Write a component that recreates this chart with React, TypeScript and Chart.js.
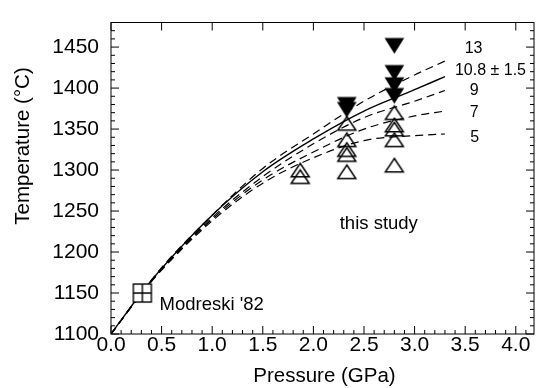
import React, { useEffect, useRef } from "react";
import { Chart, registerables } from "chart.js";
Chart.register(...registerables);

// ---- axes ----
const xTickValues = [0, 0.5, 1.0, 1.5, 2.0, 2.5, 3.0, 3.5, 4.0];
const yTickValues = [1100, 1150, 1200, 1250, 1300, 1350, 1400, 1450];
const xMin = 0;
const xMax = 4.18;
const yMin = 1100;
const yMax = 1480;
const xMinorStep = 0.1;
const yMinorStep = 10;
const xTitle = "Pressure (GPa)";
const yTitle = "Temperature (°C)";

// ---- model curves (pressure GPa -> temperature °C) ----
const curveP = [0, 0.3, 0.5, 1.0, 1.5, 2.0, 2.5, 3.0, 3.3];
const curve13 = [1100, 1150, 1181, 1245, 1302, 1344, 1384, 1416, 1433];
const curve108 = [1100, 1150, 1180, 1245, 1298, 1338, 1372, 1398, 1414];
const curve9 = [1100, 1149, 1179, 1242, 1292, 1332, 1364, 1384, 1397];
const curve7 = [1100, 1149, 1179, 1240, 1288, 1322, 1350, 1366, 1372];
const curve5 = [1100, 1149, 1178, 1238, 1284, 1315, 1336, 1342, 1344];

// ---- experiments (this study) ----
const openP = [1.87, 1.87, 2.33, 2.33, 2.33, 2.33, 2.33, 2.8, 2.8, 2.8, 2.8, 2.8];
const openT = [1300, 1292, 1357, 1337, 1325, 1319, 1298, 1370, 1355, 1350, 1337, 1306];
const filledP = [2.33, 2.33, 2.8, 2.8, 2.8, 2.8];
const filledT = [1380, 1374, 1452, 1419, 1404, 1391];

// ---- Modreski '82 ----
const modreskiP = [0.31];
const modreskiT = [1150];

// ---- annotations ----
const noteTexts = ["Modreski '82", "this study"];
const noteP = [0.48, 2.26];
const noteT = [1128.7, 1228.2];
const curveLabels = ["13", "10.8 ± 1.5", "9", "7", "5"];
const curveLabelP = [3.583, 3.75, 3.59, 3.59, 3.593];
const curveLabelT = [1448, 1421.5, 1396.7, 1370, 1339];

const FONT = "'Liberation Sans', Arial, Helvetica, sans-serif";

function pts(xs: number[], ys: number[]) {
  return xs.map((x, i) => ({ x, y: ys[i] }));
}

function makeTriangle(w: number, h: number, up: boolean, filled: boolean) {
  const c = document.createElement("canvas");
  const pad = 2;
  c.width = Math.ceil(w + pad * 2);
  c.height = Math.ceil(h + pad * 2);
  const g = c.getContext("2d")!;
  const ox = (c.width - w) / 2;
  const oy = (c.height - h) / 2;
  g.beginPath();
  if (up) {
    g.moveTo(ox + w / 2, oy);
    g.lineTo(ox + w, oy + h);
    g.lineTo(ox, oy + h);
  } else {
    g.moveTo(ox, oy);
    g.lineTo(ox + w, oy);
    g.lineTo(ox + w / 2, oy + h);
  }
  g.closePath();
  g.lineJoin = "miter";
  if (filled) {
    g.fillStyle = "#000";
    g.fill();
  }
  g.strokeStyle = "#000";
  g.lineWidth = 1.5;
  g.stroke();
  return c;
}

function makeSquareCross(s: number) {
  const c = document.createElement("canvas");
  c.width = s + 4;
  c.height = s + 4;
  const g = c.getContext("2d")!;
  const o = 2;
  g.fillStyle = "#fff";
  g.fillRect(o, o, s, s);
  g.strokeStyle = "#000";
  g.lineWidth = 1.4;
  g.strokeRect(o, o, s, s);
  g.beginPath();
  g.moveTo(o + s / 2, o);
  g.lineTo(o + s / 2, o + s);
  g.moveTo(o, o + s / 2);
  g.lineTo(o + s, o + s / 2);
  g.stroke();
  return c;
}

const framePlugin = {
  id: "frameTicks",
  afterDatasetsDraw(chart: any) {
    const { ctx, chartArea: a, scales } = chart;
    const xs = scales.x;
    const ys = scales.y;
    ctx.save();
    ctx.strokeStyle = "#000";
    ctx.lineWidth = 1;
    ctx.strokeRect(a.left, a.top, a.right - a.left, a.bottom - a.top);
    ctx.beginPath();
    const nX = Math.floor((xMax - xMin) / xMinorStep + 1e-6);
    for (let i = 0; i <= nX; i++) {
      const v = xMin + i * xMinorStep;
      const px = xs.getPixelForValue(v);
      const major = Math.abs(v / 0.5 - Math.round(v / 0.5)) < 1e-6;
      const len = major ? 8 : 4;
      ctx.moveTo(px, a.bottom);
      ctx.lineTo(px, a.bottom - len);
      if (major) {
        ctx.moveTo(px, a.top);
        ctx.lineTo(px, a.top + len);
      }
    }
    const nY = Math.floor((yMax - yMin) / yMinorStep + 1e-6);
    for (let i = 0; i <= nY; i++) {
      const v = yMin + i * yMinorStep;
      const py = ys.getPixelForValue(v);
      const major = v % 50 === 0;
      const len = major ? 8 : 4;
      ctx.moveTo(a.left, py);
      ctx.lineTo(a.left + len, py);
      ctx.moveTo(a.right, py);
      ctx.lineTo(a.right - len, py);
    }
    ctx.stroke();
    ctx.restore();
  },
  afterDraw(chart: any) {
    const { ctx, scales } = chart;
    const xs = scales.x;
    const ys = scales.y;
    ctx.save();
    ctx.fillStyle = "#000";
    // notes
    ctx.font = `18.5px ${FONT}`;
    ctx.textAlign = "left";
    ctx.textBaseline = "alphabetic";
    noteTexts.forEach((t, i) => {
      ctx.fillText(t, xs.getPixelForValue(noteP[i]), ys.getPixelForValue(noteT[i]));
    });
    // curve labels
    ctx.font = `16px ${FONT}`;
    ctx.textAlign = "center";
    ctx.textBaseline = "middle";
    curveLabels.forEach((t, i) => {
      ctx.fillText(t, xs.getPixelForValue(curveLabelP[i]), ys.getPixelForValue(curveLabelT[i]));
    });
    // axis titles
    ctx.font = `20.5px ${FONT}`;
    ctx.textAlign = "center";
    ctx.textBaseline = "alphabetic";
    ctx.fillText(xTitle, (chart.chartArea.left + chart.chartArea.right) / 2 + 2, 381.5);
    ctx.translate(28.5, 146);
    ctx.rotate(-Math.PI / 2);
    ctx.fillText(yTitle, 0, 0);
    ctx.restore();
  },
};

export default function App() {
  const ref = useRef<HTMLCanvasElement | null>(null);
  useEffect(() => {
    document.body.style.margin = "0";
    const canvas = ref.current!;
    const openTri = makeTriangle(18, 13.5, true, false);
    const fillTri = makeTriangle(17, 13.5, false, true);
    const sq = makeSquareCross(18);

    const lineDs = (data: number[], dashed: boolean) => ({
      type: "line" as const,
      data: pts(curveP, data),
      borderColor: "#000",
      borderWidth: dashed ? 1.2 : 1.4,
      borderDash: dashed ? [8, 5] : [],
      pointRadius: 0,
      fill: false,
      cubicInterpolationMode: "monotone" as const,
      showLine: true,
      order: 2,
    });
    const pointDs = (xs: number[], ys: number[], style: any, order: number) => ({
      type: "scatter" as const,
      data: pts(xs, ys),
      pointStyle: style,
      pointRadius: 6,
      showLine: false,
      order,
    });

    const chart = new Chart(canvas, {
      type: "scatter",
      data: {
        datasets: [
          lineDs(curve13, true),
          lineDs(curve108, false),
          lineDs(curve9, true),
          lineDs(curve7, true),
          lineDs(curve5, true),
          pointDs(openP, openT, openTri, 1),
          pointDs(filledP, filledT, fillTri, 1),
          pointDs(modreskiP, modreskiT, sq, 0),
        ] as any,
      },
      options: {
        animation: false,
        responsive: true,
        maintainAspectRatio: false,
        layout: { padding: { top: 16, right: 3, bottom: 0, left: 0 } },
        plugins: { legend: { display: false }, tooltip: { enabled: false } },
        scales: {
          x: {
            type: "linear",
            min: xMin,
            max: xMax,
            grid: { display: false, drawTicks: false },
            border: { display: false },
            afterBuildTicks: (s: any) => {
              s.ticks = xTickValues.map((v) => ({ value: v }));
            },
            afterFit: (s: any) => {
              s.height = 54;
            },
            ticks: {
              autoSkip: false,
              maxRotation: 0,
              padding: 1,
              color: "#000",
              font: { family: FONT, size: 21, lineHeight: 1 },
              callback: (v: any) => Number(v).toFixed(1),
            },
          },
          y: {
            type: "linear",
            min: yMin,
            max: yMax,
            grid: { display: false, drawTicks: false },
            border: { display: false },
            afterBuildTicks: (s: any) => {
              s.ticks = yTickValues.map((v) => ({ value: v }));
            },
            afterFit: (s: any) => {
              s.width = 111;
            },
            ticks: {
              autoSkip: false,
              padding: 12,
              color: "#000",
              font: { family: FONT, size: 21, lineHeight: 1 },
              callback: (v: any) => String(v),
            },
          },
        },
      },
      plugins: [framePlugin],
    } as any);
    return () => chart.destroy();
  }, []);
  return (
    <div style={{ width: 541, height: 388, position: "relative", background: "#fff" }}>
      <canvas ref={ref} />
    </div>
  );
}
